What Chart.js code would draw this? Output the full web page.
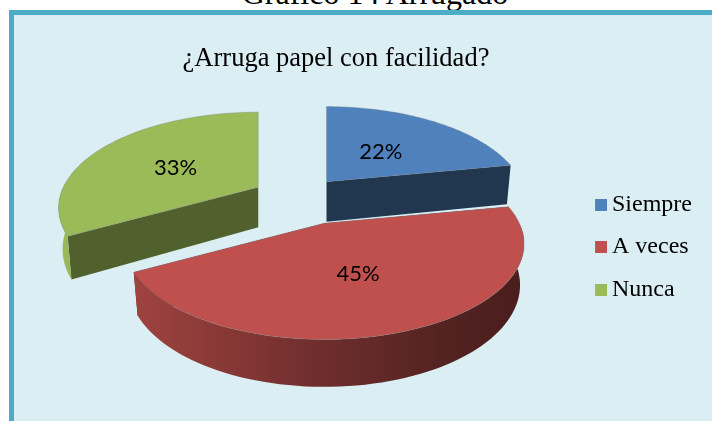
<!DOCTYPE html>
<html>
<head>
<meta charset="utf-8">
<script src="https://cdn.jsdelivr.net/npm/chart.js@4"></script>
<style>
html,body{margin:0;padding:0;background:#fff;overflow:hidden;width:712px;height:421px}
#cap{position:absolute;left:0;width:750px;top:-25px;text-align:center;font:32px "Liberation Serif",serif;color:#000;white-space:nowrap}
#frame{position:absolute;left:9px;top:10px;width:800px;height:500px;border:5px solid #4BACC6;background:#DBEEF4;box-sizing:border-box}
#c{position:absolute;left:-30px;top:15px}
</style>
</head>
<body>
<div id="cap">Gráfico 14 Arrugado</div>
<div id="frame"></div>
<canvas id="c" width="732" height="464"></canvas>
<script>
const categories = ["Siempre", "A veces", "Nunca"];
const shares = [22, 45, 33];
const sliceColors = ["#4F81BD", "#C0504D", "#9BBB59"];
const sliceOffsets = [49, 86, 43];
const sideShade = [0.42, 0.45, 0.52];

const view = {shiftX: 20, shiftY: -92, tilt: 0.468, persp: 0.215, spread: 0.35, depth: 40, labelDx: -3, labelDy: 3};

function shade(hex, f) {
  const n = parseInt(hex.slice(1), 16);
  return `rgb(${Math.round((n >> 16) * f)},${Math.round(((n >> 8) & 255) * f)},${Math.round((n & 255) * f)})`;
}

function projector(el) {
  const mid = (el.startAngle + el.endAngle) / 2, off = el.options.offset;
  const ax = el.x + view.shiftX + off * Math.cos(mid);
  const ay = el.y + view.shiftY + off * Math.sin(mid) * view.spread;
  const rx = el.outerRadius;
  return (a, r, z) => {
    const u = Math.cos(a) * r, v = Math.sin(a) * r, k = 1 / (1 - view.persp * v);
    return [ax + u * rx * k * (1 - 0.02 * z), ay + v * rx * view.tilt * k + z * view.depth * Math.pow(k, 0.7)];
  };
}
function fillPoly(ctx, pts, style, stroke) {
  ctx.beginPath();
  pts.forEach((p, i) => i ? ctx.lineTo(p[0], p[1]) : ctx.moveTo(p[0], p[1]));
  ctx.closePath();
  ctx.fillStyle = style;
  ctx.fill();
  if (stroke) { ctx.strokeStyle = stroke; ctx.lineWidth = 1; ctx.stroke(); }
}

const pie3d = {
  id: "pie3d",
  beforeDatasetDraw(chart, args) {
    const ctx = chart.ctx, arcs = args.meta.data;
    const order = arcs.map((el, i) => i).sort((a, b) => {
      const m = el => Math.sin((el.startAngle + el.endAngle) / 2) * el.options.offset;
      return m(arcs[a]) - m(arcs[b]);
    });
    order.forEach(i => {
      const el = arcs[i], P = projector(el), col = sliceColors[i];
      const s = el.startAngle, e = el.endAngle, N = 80;
      const side = shade(col, sideShade[i]);
      [s, e].forEach(a => fillPoly(ctx, [P(a,0,0), P(a,1,0), P(a,1,1), P(a,0,1)], side));
      const front = [];
      for (let j = 0; j <= N; j++) {
        const a = s + (e - s) * j / N;
        if (Math.sin(a) >= 0) front.push(a);
      }
      if (front.length > 1) {
        const cx = el.x + view.shiftX, rx = el.outerRadius;
        const g = ctx.createLinearGradient(cx - 1.2 * rx, 0, cx + 1.2 * rx, 0);
        [[0, 1], [0.125, 0.85], [0.55, 0.58], [0.84, 0.42], [1, 0.38]].forEach(st => g.addColorStop(st[0], shade(col, st[1])));
        fillPoly(ctx, front.map(a => P(a,1,0)).concat(front.slice().reverse().map(a => P(a,1,1))), g);
      }
      const top = [P(s,0,0)];
      for (let j = 0; j <= N; j++) top.push(P(s + (e - s) * j / N, 1, 0));
      fillPoly(ctx, top, col, "rgba(120,130,130,0.35)");
    });
    return false;
  },
  afterDatasetsDraw(chart) {
    const ctx = chart.ctx;
    ctx.save();
    ctx.font = '22px Lato, sans-serif';
    ctx.fillStyle = "#000";
    ctx.textAlign = "center";
    ctx.textBaseline = "middle";
    chart.getDatasetMeta(0).data.forEach((el, i) => {
      const p = projector(el)((el.startAngle + el.endAngle) / 2, 0.5, 0);
      ctx.fillText(shares[i] + "%", p[0] + view.labelDx, p[1] + view.labelDy);
    });
    ctx.restore();
  }
};

function swatch(color) {
  const c = document.createElement("canvas");
  c.width = 15; c.height = 12;
  const x = c.getContext("2d");
  x.fillStyle = color; x.fillRect(3, 0, 12, 12);
  return c;
}

new Chart(document.getElementById("c"), {
  type: "pie",
  data: {
    labels: categories,
    datasets: [{data: shares, backgroundColor: sliceColors, offset: sliceOffsets, borderWidth: 0}]
  },
  plugins: [pie3d],
  options: {
    responsive: false,
    animation: false,
    radius: 195,
    plugins: {
      tooltip: {enabled: false},
      title: {
        display: true,
        text: "¿Arruga papel con facilidad?",
        color: "#000",
        font: {family: '"Liberation Serif", serif', size: 26.5, weight: "normal"},
        padding: {top: 28, bottom: 20}
      },
      legend: {
        position: "right",
        labels: {
          usePointStyle: true,
          pointStyleWidth: 1,
          boxHeight: 12,
          padding: 18.5,
          color: "#000",
          font: {family: '"Liberation Serif", serif', size: 24},
          generateLabels(chart) {
            return Chart.overrides.pie.plugins.legend.labels.generateLabels(chart)
              .map((it, i) => Object.assign(it, {pointStyle: swatch(sliceColors[i])}));
          }
        }
      }
    }
  }
});
</script>
</body>
</html>
